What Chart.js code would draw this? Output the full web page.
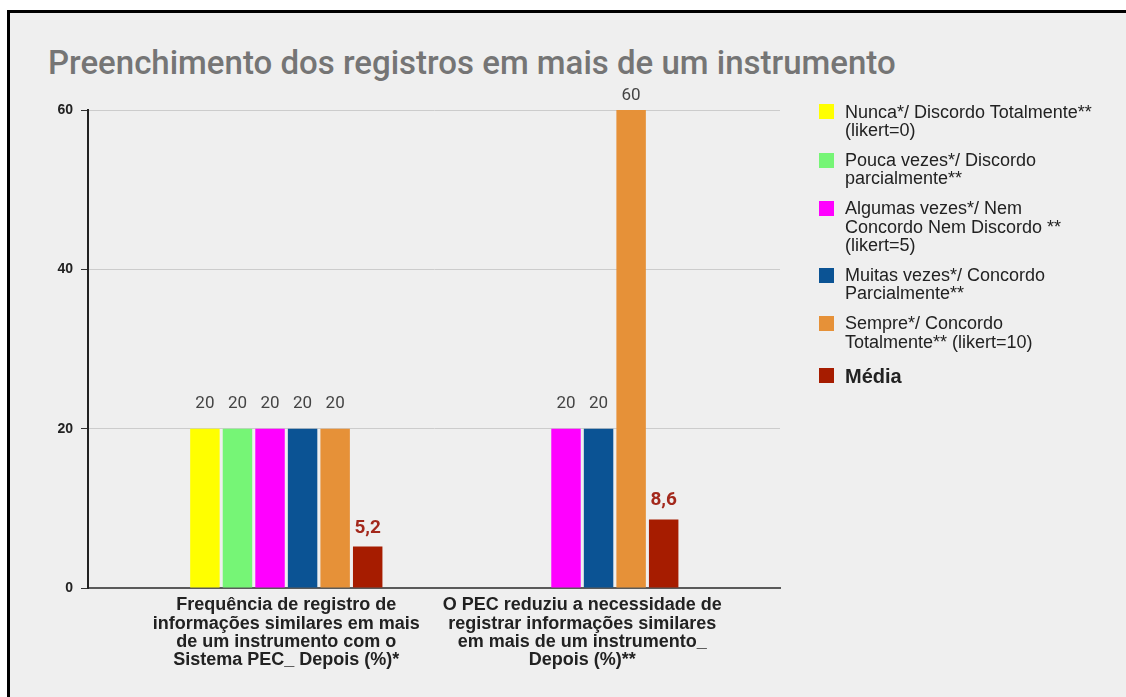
<!DOCTYPE html>
<html>
<head>
<meta charset="utf-8">
<script src="https://cdn.jsdelivr.net/npm/chart.js@4"></script>
<style>
  html, body { margin: 0; padding: 0; background: #fff; overflow: hidden; width: 1126px; height: 697px; }
  #frame {
    position: absolute; left: 7px; top: 10px; width: 1140px; height: 700px;
    box-sizing: border-box; border-top: 3px solid #000; border-left: 3px solid #000;
    background: #efefef;
  }
  #wrap { position: absolute; left: 0; top: 0; width: 1126px; height: 697px; }
  #title {
    position: absolute; left: 48px; top: 46px; white-space: nowrap;
    font: 500 33px/33px Roboto, sans-serif; color: #757575;
  }
  #legend {
    position: absolute; left: 819px; top: 102.5px;
    font: 18px/18.3px "Liberation Sans", Arial, sans-serif; color: #222;
  }
  .item { display: flex; margin-bottom: 11.8px; }
  .sw { width: 15px; height: 15px; margin-top: 1.7px; margin-right: 11px; flex: none; }
  .item.mean { font-weight: bold; font-size: 20px; line-height: 20px; padding-top: 3px; }
  .item.mean .sw { margin-top: 2.5px; }
</style>
</head>
<body>
<div id="frame"></div>
<div id="title">Preenchimento dos registros em mais de um instrumento</div>
<div id="wrap"><canvas id="chart" width="1126" height="697"></canvas></div>
<div id="legend"></div>
<script>
// Question groups on the x axis (one line per array entry)
const categories = [
  ['Frequência de registro de', 'informações similares em mais', 'de um instrumento com o', 'Sistema PEC_ Depois (%)*'],
  ['O PEC reduziu a necessidade de', 'registrar informações similares', 'em mais de um instrumento_', 'Depois (%)**']
];

// Answer options, as shown in the legend
const seriesNames = [
  ['Nunca*/ Discordo Totalmente**', '(likert=0)'],
  ['Pouca vezes*/ Discordo', 'parcialmente**'],
  ['Algumas vezes*/ Nem', 'Concordo Nem Discordo **', '(likert=5)'],
  ['Muitas vezes*/ Concordo', 'Parcialmente**'],
  ['Sempre*/ Concordo', 'Totalmente** (likert=10)'],
  ['Média']
];

// Percentages per answer option, one value per question group
const nunca   = [20, 0];
const poucas  = [20, 0];
const algumas = [20, 20];
const muitas  = [20, 20];
const sempre  = [20, 60];
const media   = [5.2, 8.6];

const yTicks = [0, 20, 40, 60];

const seriesValues = [nunca, poucas, algumas, muitas, sempre, media];
const seriesColors = ['#ffff00', '#76f576', '#ff00ff', '#0b5394', '#e69138', '#a61c00'];

const fmt = v => String(v).replace('.', ',');

// Value labels above each non-empty bar
const valueLabels = {
  id: 'valueLabels',
  afterDatasetsDraw(chart) {
    const { ctx, chartArea } = chart;
    const last = chart.data.datasets.length - 1;
    chart.data.datasets.forEach((ds, di) => {
      const meta = chart.getDatasetMeta(di);
      meta.data.forEach((bar, i) => {
        const v = ds.data[i].y;
        if (!v) return;
        const isMean = di === last;
        ctx.save();
        ctx.font = isMean ? 'bold 19px Roboto' : '17px Roboto';
        ctx.fillStyle = isMean ? '#a3281c' : '#444444';
        ctx.textAlign = 'center';
        ctx.textBaseline = 'alphabetic';
        const gap = isMean ? 14 : 21;
        const y = Math.max(bar.y - gap, chartArea.top - 10);
        ctx.fillText(fmt(v), bar.x, y);
        ctx.restore();
      });
    });
  }
};

// Legend rendered as HTML so long names can wrap onto several lines
const htmlLegend = {
  id: 'htmlLegend',
  afterUpdate(chart) {
    const box = document.getElementById('legend');
    box.innerHTML = '';
    const items = Chart.defaults.plugins.legend.labels.generateLabels(chart);
    items.forEach(it => {
      const row = document.createElement('div');
      row.className = 'item' + (it.datasetIndex === seriesNames.length - 1 ? ' mean' : '');
      const sw = document.createElement('span');
      sw.className = 'sw';
      sw.style.background = it.fillStyle;
      const txt = document.createElement('span');
      txt.innerHTML = seriesNames[it.datasetIndex].join('<br>');
      row.appendChild(sw);
      row.appendChild(txt);
      box.appendChild(row);
    });
  }
};

new Chart(document.getElementById('chart'), {
  type: 'bar',
  data: {
    datasets: seriesValues.map((vals, k) => ({
      label: seriesNames[k].join(' '),
      data: vals.map((v, i) => ({ x: i, y: v })),
      backgroundColor: seriesColors[k],
      borderWidth: 0,
      categoryPercentage: 0.66,
      barPercentage: 0.905
    }))
  },
  options: {
    responsive: false,
    animation: false,
    layout: { padding: { top: 110, right: 346, bottom: 0, left: 0 } },
    plugins: {
      legend: { display: false },
      tooltip: { enabled: false },
      title: { display: false }
    },
    scales: {
      x: {
        type: 'linear',
        min: -0.67,
        max: 1.668,
        offset: false,
        afterBuildTicks: s => { s.ticks = categories.map((_, i) => ({ value: i })); },
        afterFit: s => { s.height = 109; },
        grid: { display: false, drawTicks: false },
        border: { display: true, color: '#5a5a5a', width: 2 },
        ticks: {
          callback: v => categories[v],
          maxRotation: 0,
          autoSkip: false,
          padding: 8,
          color: '#222',
          font: { family: '"Liberation Sans", Arial, sans-serif', size: 18, weight: 'bold', lineHeight: 1.02 }
        }
      },
      y: {
        min: 0,
        max: 60,
        afterBuildTicks: s => { s.ticks = yTicks.map(v => ({ value: v })); },
        afterFit: s => { s.width = 88; },
        grid: { color: '#cccccc', lineWidth: 1, tickLength: 7, tickColor: '#333', drawTicks: true },
        border: { display: true, color: '#222', width: 2 },
        ticks: {
          padding: 8,
          color: '#222',
          font: { family: '"Liberation Sans", Arial, sans-serif', size: 14, weight: 'bold' }
        }
      }
    }
  },
  plugins: [valueLabels, htmlLegend]
});
</script>
</body>
</html>
